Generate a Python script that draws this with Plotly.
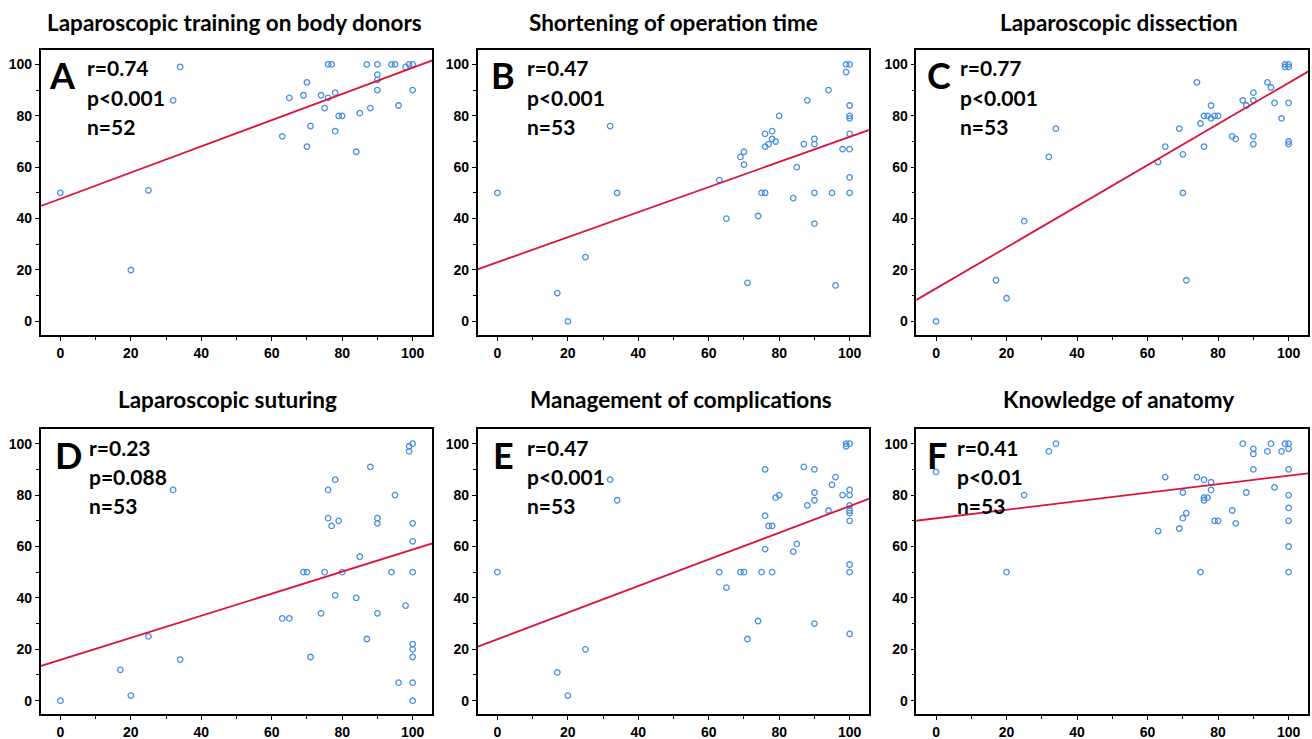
import plotly.graph_objects as go

W, H = 1312, 739

titles = ["Laparoscopic training on body donors", "Shortening of operation time",
          "Laparoscopic dissection", "Laparoscopic suturing",
          "Management of complications", "Knowledge of anatomy"]
letters = ["A", "B", "C", "D", "E", "F"]
r_text = ["r=0.74", "r=0.47", "r=0.77", "r=0.23", "r=0.47", "r=0.41"]
p_text = ["p<0.001", "p<0.001", "p<0.001", "p=0.088", "p<0.001", "p<0.01"]
n_text = ["n=52", "n=53", "n=53", "n=53", "n=53", "n=53"]

a_x = [0, 20, 25, 32, 34, 63, 65, 69, 70, 70, 71, 74, 75, 76, 77, 76, 78, 78, 79, 80, 84, 85,
       87, 88, 90, 90, 90, 90, 94, 95, 96, 98, 99, 100, 100]
a_y = [50, 20, 51, 86, 99, 72, 87, 88, 93, 68, 76, 88, 83, 100, 100, 87, 89, 74, 80, 80, 66, 81,
       100, 83, 100, 96, 94, 90, 100, 100, 84, 99, 100, 100, 90]

b_x = [0, 17, 20, 25, 32, 34, 63, 65, 69, 70, 70, 71, 74, 75, 76, 76, 76, 77, 78, 78, 79, 80,
       84, 85, 87, 88, 90, 90, 90, 90, 94, 95, 96, 98, 99, 99, 100, 100, 100, 100, 100, 100, 100, 100]
b_y = [50, 11, 0, 25, 76, 50, 55, 40, 64, 66, 61, 15, 41, 50, 50, 73, 68, 69, 74, 71, 70, 80,
       48, 60, 69, 86, 71, 69, 50, 38, 90, 50, 14, 67, 100, 97, 100, 84, 80, 79, 73, 67, 56, 50]

c_x = [0, 17, 20, 25, 32, 34, 63, 65, 69, 70, 70, 71, 74, 75, 76, 76, 77, 78, 78, 79, 80, 84,
       85, 87, 88, 90, 90, 90, 90, 94, 95, 96, 98, 99, 99, 100, 100, 100, 100, 100]
c_y = [0, 16, 9, 39, 64, 75, 62, 68, 75, 65, 50, 16, 93, 77, 80, 68, 80, 84, 79, 80, 80, 72,
       71, 86, 84, 89, 86, 72, 69, 93, 91, 85, 79, 100, 99, 100, 99, 85, 70, 69]

d_x = [0, 17, 20, 25, 32, 34, 63, 65, 69, 70, 71, 74, 75, 76, 76, 77, 78, 78, 79, 80, 84, 85,
       87, 88, 90, 90, 90, 94, 95, 96, 98, 99, 99, 100, 100, 100, 100, 100, 100, 100, 100, 100]
d_y = [0, 12, 2, 25, 82, 16, 32, 32, 50, 50, 17, 34, 50, 82, 71, 68, 86, 41, 70, 50, 40, 56,
       24, 91, 71, 69, 34, 50, 80, 7, 37, 99, 97, 100, 69, 62, 50, 22, 20, 17, 7, 0]

e_x = [0, 17, 20, 25, 32, 34, 63, 65, 69, 70, 71, 74, 75, 76, 76, 76, 77, 78, 78, 79, 80, 84,
       85, 87, 88, 90, 90, 90, 90, 94, 95, 96, 98, 99, 99, 100, 100, 100, 100, 100, 100, 100, 100, 100, 100]
e_y = [50, 11, 2, 20, 86, 78, 50, 44, 50, 50, 24, 31, 50, 90, 72, 59, 68, 68, 50, 79, 80, 58,
       61, 91, 76, 90, 81, 78, 30, 74, 84, 87, 80, 100, 99, 100, 82, 80, 76, 74, 73, 70, 53, 50, 26]

f_x = [0, 20, 25, 32, 34, 63, 65, 69, 70, 70, 71, 74, 75, 76, 76, 76, 77, 78, 78, 79, 80, 84,
       85, 87, 88, 90, 90, 90, 94, 95, 96, 98, 99, 100, 100, 100, 100, 100, 100, 100, 100]
f_y = [89, 50, 80, 97, 100, 66, 87, 67, 81, 71, 73, 87, 50, 86, 79, 78, 79, 85, 82, 70, 70, 74,
       69, 100, 81, 98, 96, 90, 97, 100, 83, 97, 100, 100, 98, 90, 80, 75, 70, 60, 50]

xs = [a_x, b_x, c_x, d_x, e_x, f_x]
ys = [a_y, b_y, c_y, d_y, e_y, f_y]

fit_intercept = [47.7, 23.0, 12.8, 15.9, 23.9, 70.95]
fit_slope = [0.51, 0.488, 0.80, 0.429, 0.518, 0.166]

x_ticks = [0, 20, 40, 60, 80, 100]
y_ticks = [0, 20, 40, 60, 80, 100]
x_range = [-5.6, 105.5]
y_range = [-5.3, 105.6]

# ---- layout geometry (pixels) ----
col_px = [(40.7, 432), (477.7, 869), (916.3, 1308)]
row_px = [(50, 335), (429.3, 714.3)]
title_cx = [234, 673, 1119, 228, 681, 1118]
title_cy = [23, 23, 23, 399, 399, 399]
letter_px = [47, 489, 925, 52.7, 490.7, 925.3]
text_px = [85, 525, 958, 87.3, 525, 954.7]
row_text_cy = [(75, 68, 97, 126), (454.5, 447.5, 476.5, 505.5)]

MARK = "#4a8fe4"
RED = "#dc143c"
FONT = "Lato"
TICKFONT = dict(family="Liberation Sans, Arial, sans-serif", size=14, color="black", weight=700)

fig = go.Figure()
annotations = []
for i in range(6):
    col, row = i % 3, i // 3
    ax = "" if i == 0 else str(i + 1)
    fig.add_trace(go.Scatter(
        x=xs[i], y=ys[i], mode="markers", xaxis="x" + ax, yaxis="y" + ax,
        marker=dict(symbol="circle-open", size=5.5, color=MARK, line=dict(width=1.3, color=MARK)),
        showlegend=False, hoverinfo="x+y"))
    lx = [x_range[0] - 1, x_range[1] + 1]
    fig.add_trace(go.Scatter(
        x=lx, y=[fit_intercept[i] + fit_slope[i] * v for v in lx], mode="lines",
        xaxis="x" + ax, yaxis="y" + ax, line=dict(color=RED, width=1.8),
        showlegend=False, hoverinfo="skip"))
    xd = [col_px[col][0] / W, col_px[col][1] / W]
    yd = [1 - row_px[row][1] / H, 1 - row_px[row][0] / H]
    common = dict(showline=True, linecolor="black", linewidth=1.5, mirror=True,
                  ticks="outside", ticklen=4, tickwidth=1.2, tickcolor="black",
                  showgrid=False, zeroline=False, tickfont=TICKFONT,
                  minor=dict(ticks="outside", ticklen=3, tickwidth=1, tickcolor="black", dtick=10, showgrid=False))
    fig.layout["xaxis" + ax] = dict(domain=xd, range=x_range, tickvals=x_ticks,
                                    anchor="y" + ax, **common)
    fig.layout["yaxis" + ax] = dict(domain=yd, range=y_range, tickvals=y_ticks,
                                    anchor="x" + ax, **common)
    annotations.append(dict(text="<b>" + titles[i] + "</b>", x=title_cx[i] / W, y=1 - title_cy[i] / H,
                            xref="paper", yref="paper", xanchor="center", yanchor="middle",
                            showarrow=False, font=dict(family=FONT, size=22.5, color="black")))
    tc = row_text_cy[row]
    annotations.append(dict(text="<b>" + letters[i] + "</b>", x=letter_px[i] / W, y=1 - tc[0] / H,
                            xref="paper", yref="paper", xanchor="left", yanchor="middle",
                            showarrow=False, font=dict(family=FONT, size=36, color="black")))
    for k, t in enumerate([r_text[i], p_text[i], n_text[i]]):
        annotations.append(dict(text="<b>" + t.replace("<", "&lt;") + "</b>", x=text_px[i] / W, y=1 - tc[k + 1] / H,
                                xref="paper", yref="paper", xanchor="left", yanchor="middle",
                                showarrow=False, font=dict(family=FONT, size=21, color="black")))

fig.update_layout(width=W, height=H, margin=dict(l=0, r=0, t=0, b=0),
                  paper_bgcolor="white", plot_bgcolor="white",
                  annotations=annotations)
fig.write_html("out.html", config={"displayModeBar": False})
